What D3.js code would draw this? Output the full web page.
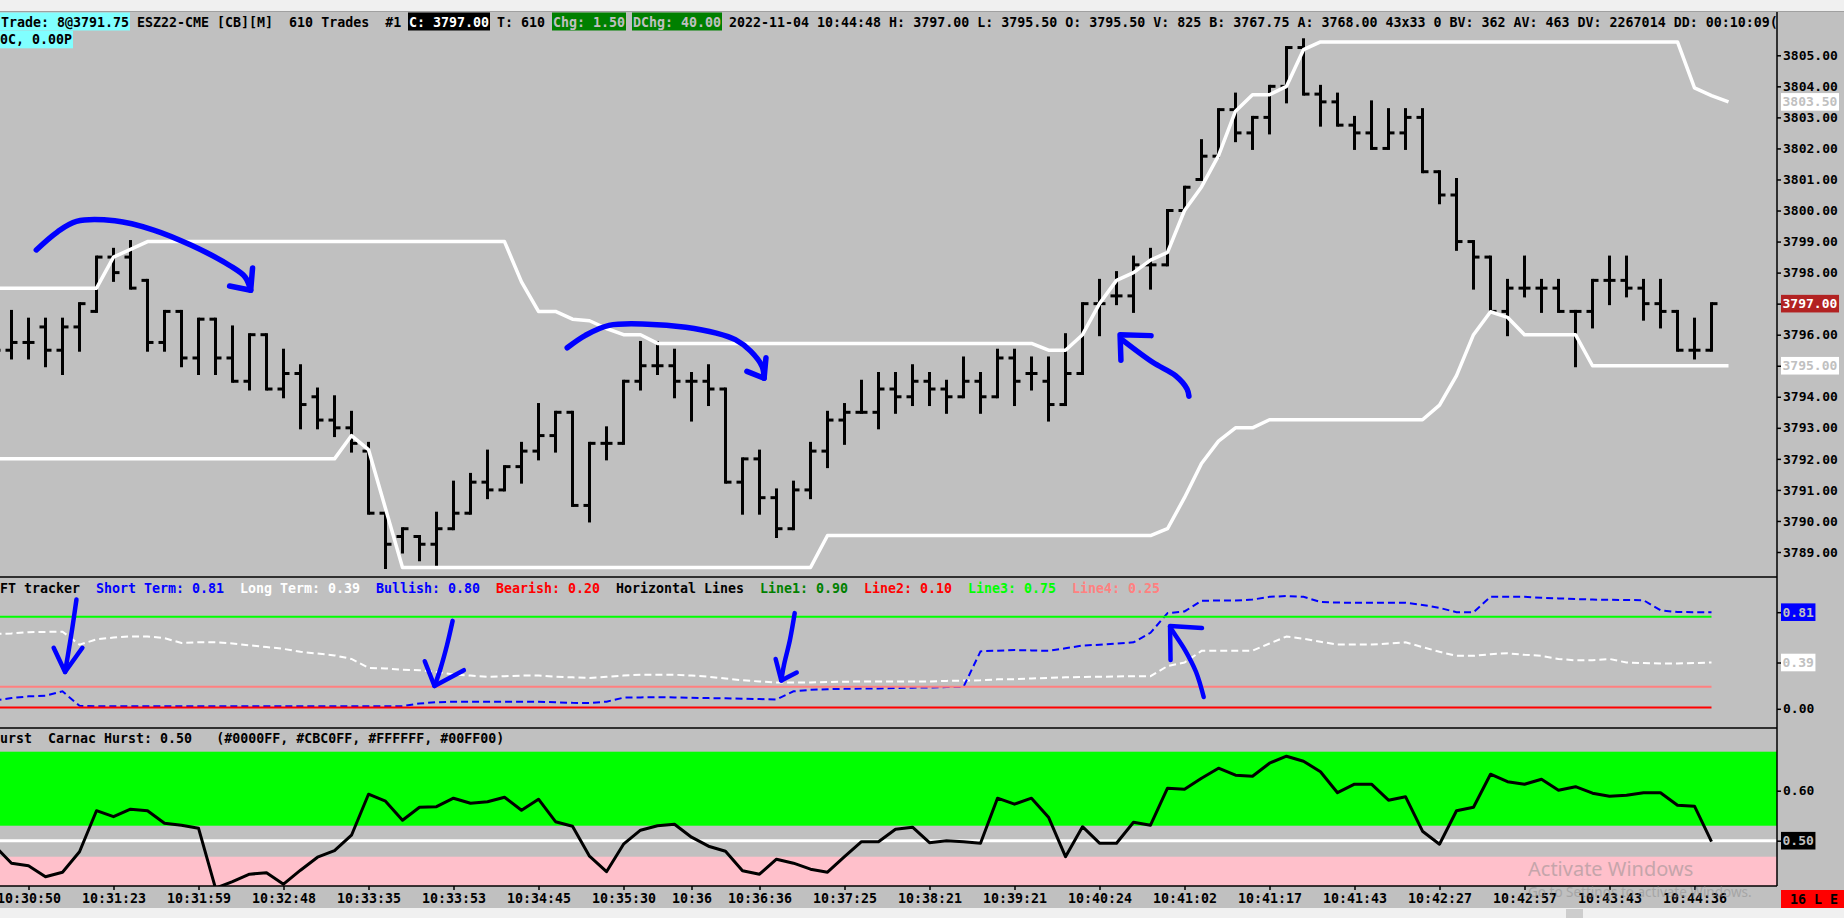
<!DOCTYPE html>
<html>
<head>
<meta charset="utf-8">
<script src="https://cdn.jsdelivr.net/npm/d3@7"></script>
<style>
  body { margin: 0; background: #c0c0c0; overflow: hidden; }
  svg { display: block; }
  text { font-family: "DejaVu Sans Mono", monospace; font-weight: bold; }
  text.wm { font-family: "Noto Sans", sans-serif; font-weight: normal; }
</style>
</head>
<body>
<script>
// ---- bar data (one entry per bar) ----
let opens = [3795.5,3795.5,3795.75,3796.25,3795.5,3796.25,3796.75,3798.5,3798.5,3797.75,
  3795.75,3796.75,3795.25,3796.5,3795.25,3794.5,3796,3794.25,3794.75,3794,
  3793.25,3793,3792.25,3790.25,3789.5,3789.5,3789.25,3789.75,3790.25,3791.25,
  3791,3791.75,3792.25,3792.75,3793.5,3790.5,3792.5,3792.5,3794.5,3795,
  3795,3794.5,3794.5,3794.25,3791.25,3792,3790.75,3789.75,3791,3792.25,
  3793.25,3793.5,3793.5,3794.25,3794,3794.5,3794.25,3794,3794.5,3794,
  3795.25,3794.75,3794.5,3793.75,3794.75,3797,3797.25,3797.25,3798.25,3798.25,
  3800,3801,3801.75,3803.25,3802.5,3803,3804,3805.25,3803.75,3803.5,
  3802.75,3802.5,3802,3802.5,3803,3801.25,3800.5,3799,3798.5,3796.75,
  3797.5,3797.5,3797.5,3796.75,3796.75,3797.75,3797.75,3797.5,3797,3796.75,
  3795.5,3795.5];
let highs = [3796.5,3796.75,3796.5,3796.5,3796.5,3797,3798.5,3798.75,3799,3797.75,
  3796.75,3796.75,3796.5,3796.5,3796.25,3796,3796,3795.5,3795,3794.25,
  3794,3793.5,3792.5,3790.25,3789.75,3789.5,3790.25,3791.25,3791.5,3792.25,
  3791.75,3792.5,3793.75,3793.5,3793.5,3792.5,3793,3794.5,3795.75,3795.75,
  3795.5,3794.75,3795,3794.25,3792,3792.25,3791,3791.25,3792.5,3793.5,
  3793.75,3794.5,3794.75,3794.75,3795,3794.75,3794.5,3795.25,3794.75,3795.5,
  3795.5,3795.25,3795.25,3796,3797,3797.75,3798,3798.5,3798.75,3800,
  3800.75,3802.25,3803.25,3803.75,3803,3804,3805.25,3805.5,3804,3803.75,
  3803,3803.5,3803.25,3803.25,3803.25,3801.25,3801,3799,3798.5,3797.75,
  3798.5,3797.75,3797.75,3796.75,3797.75,3798.5,3798.5,3797.75,3797.75,3796.75,
  3796.5,3797];
let lows = [3795,3795.25,3795.25,3795,3794.75,3795.5,3796.75,3797.75,3797.5,3795.5,
  3795.5,3795,3794.75,3794.75,3794.5,3794.25,3794.25,3794,3793,3793,
  3792.75,3792.25,3790.25,3788.5,3789,3788.75,3788.5,3789.75,3790.25,3790.75,
  3791,3791.25,3792,3792.25,3790.5,3790,3792,3792.5,3794.25,3794.75,
  3794,3793.25,3793.75,3791.25,3790.25,3790.25,3789.5,3789.75,3790.75,3791.75,
  3792.5,3793.5,3793,3793.5,3793.75,3793.75,3793.5,3794,3793.5,3794,
  3793.75,3794.25,3793.25,3793.75,3794.75,3796,3797,3796.75,3797.5,3798.25,
  3800,3801,3801.75,3802.25,3802,3802.5,3803.5,3803.75,3802.75,3802.75,
  3802,3802,3802,3802,3801.25,3800.25,3798.75,3797.5,3796.75,3796,
  3797.25,3796.75,3796.75,3795,3796.25,3797,3797.25,3796.5,3796.25,3795.5,
  3795.25,3795.5];
let closes = [3795.5,3795.75,3795.75,3795.5,3796.25,3797,3798.5,3798,3797.5,3795.75,
  3796.75,3795.25,3796.5,3795.25,3794.5,3796,3794.25,3794.75,3793.75,3793.25,
  3793,3792.5,3790.25,3789.25,3789.75,3789.25,3789.75,3790.25,3791.25,3791,
  3791.75,3792.25,3792.75,3793.5,3790.5,3792.5,3792.5,3794.5,3795,3795,
  3794.5,3794.5,3794.25,3791.25,3792,3790.75,3789.75,3791,3792.25,3793.25,
  3793.5,3793.5,3794.25,3794,3794.5,3794.25,3794,3794.5,3794,3795.25,
  3794.5,3794.75,3793.75,3794.75,3797,3797,3797.25,3798.25,3798.25,3800,
  3800.75,3801.75,3803.25,3802.5,3803,3804,3805.25,3803.75,3803.5,3802.75,
  3802.5,3802,3802.5,3803,3801.25,3800.5,3799,3798.5,3796.75,3797.5,
  3797.5,3797.5,3796.75,3796.75,3797.75,3797.75,3797.5,3797,3796.75,3795.5,
  3795.5,3797];

// ---- white channel lines on the price panel (one more point than bars) ----
let upperBand = [3797.5,3797.5,3797.5,3797.5,3797.5,3797.5,3797.5,3798.5,3798.75,3799,
  3799,3799,3799,3799,3799,3799,3799,3799,3799,3799,
  3799,3799,3799,3799,3799,3799,3799,3799,3799,3799,
  3799,3797.7,3796.75,3796.75,3796.5,3796.45,3796.2,3796,3796,3795.72,
  3795.72,3795.72,3795.72,3795.72,3795.72,3795.72,3795.72,3795.72,3795.72,3795.72,
  3795.72,3795.72,3795.72,3795.72,3795.72,3795.72,3795.72,3795.72,3795.72,3795.72,
  3795.72,3795.72,3795.5,3795.5,3796,3797,3797.75,3798,3798.4,3798.65,
  3800,3800.76,3801.77,3803.2,3803.73,3803.73,3804,3805.18,3805.43,3805.43,
  3805.43,3805.43,3805.43,3805.43,3805.43,3805.43,3805.43,3805.43,3805.43,3805.43,
  3805.43,3805.43,3805.43,3805.43,3805.43,3805.43,3805.43,3805.43,3805.43,3805.43,
  3803.95,3803.7,3803.5];
let lowerBand = [3792,3792,3792,3792,3792,3792,3792,3792,3792,3792,
  3792,3792,3792,3792,3792,3792,3792,3792,3792,3792,
  3792,3792.75,3792.3,3790.4,3788.5,3788.5,3788.5,3788.5,3788.5,3788.5,
  3788.5,3788.5,3788.5,3788.5,3788.5,3788.5,3788.5,3788.5,3788.5,3788.5,
  3788.5,3788.5,3788.5,3788.5,3788.5,3788.5,3788.5,3788.5,3788.5,3789.53,
  3789.53,3789.53,3789.53,3789.53,3789.53,3789.53,3789.53,3789.53,3789.53,3789.53,
  3789.53,3789.53,3789.53,3789.53,3789.53,3789.53,3789.53,3789.53,3789.53,3789.75,
  3790.75,3791.85,3792.57,3793,3793,3793.26,3793.26,3793.26,3793.26,3793.26,
  3793.26,3793.26,3793.26,3793.26,3793.26,3793.73,3794.68,3796,3796.74,3796.56,
  3796,3796,3796,3796,3795,3795,3795,3795,3795,3795,
  3795,3795,3795];

// ---- FFT tracker panel ----
let shortTerm = [0.07,0.09,0.105,0.11,0.147,0.025,0.022,0.022,0.022,0.022,
  0.022,0.022,0.022,0.022,0.022,0.022,0.022,0.022,0.022,0.022,
  0.022,0.022,0.022,0.022,0.022,0.045,0.055,0.06,0.06,0.06,
  0.06,0.06,0.06,0.055,0.05,0.049,0.06,0.094,0.096,0.098,
  0.096,0.093,0.09,0.088,0.085,0.082,0.079,0.147,0.16,0.165,
  0.168,0.17,0.172,0.175,0.178,0.18,0.183,0.185,0.484,0.49,
  0.495,0.492,0.488,0.51,0.533,0.54,0.55,0.56,0.64,0.806,
  0.82,0.91,0.912,0.912,0.92,0.943,0.95,0.943,0.9,0.895,
  0.893,0.893,0.893,0.893,0.875,0.85,0.814,0.814,0.943,0.943,
  0.943,0.935,0.93,0.925,0.92,0.918,0.916,0.915,0.83,0.815,
  0.814,0.814];
let longTerm = [0.63,0.635,0.645,0.648,0.65,0.54,0.585,0.6,0.61,0.61,
  0.595,0.555,0.56,0.56,0.55,0.535,0.52,0.505,0.48,0.465,
  0.45,0.42,0.345,0.34,0.33,0.325,0.31,0.29,0.28,0.27,
  0.275,0.28,0.28,0.27,0.265,0.26,0.27,0.28,0.287,0.287,
  0.287,0.28,0.27,0.255,0.24,0.23,0.222,0.222,0.222,0.225,
  0.228,0.23,0.23,0.23,0.23,0.23,0.235,0.238,0.24,0.248,
  0.25,0.255,0.26,0.265,0.268,0.27,0.272,0.275,0.275,0.36,
  0.39,0.488,0.488,0.488,0.49,0.55,0.609,0.59,0.565,0.541,
  0.541,0.541,0.55,0.56,0.52,0.48,0.446,0.446,0.46,0.468,
  0.455,0.446,0.42,0.408,0.41,0.42,0.39,0.385,0.382,0.382,
  0.385,0.39];
let fftLevels = [0.775, 0.185, 0.01];

// ---- Carnac Hurst panel ----
let hurst = [0.49,0.455,0.45,0.428,0.437,0.478,0.56,0.548,0.563,0.56,
  0.535,0.531,0.525,0.405,0.418,0.433,0.436,0.413,0.441,0.467,
  0.48,0.511,0.593,0.579,0.541,0.567,0.568,0.585,0.575,0.578,
  0.587,0.561,0.583,0.538,0.529,0.469,0.438,0.493,0.521,0.53,
  0.533,0.507,0.489,0.479,0.44,0.433,0.463,0.455,0.443,0.437,
  0.468,0.498,0.498,0.523,0.527,0.496,0.5,0.498,0.495,0.585,
  0.573,0.585,0.547,0.468,0.528,0.495,0.495,0.537,0.531,0.605,
  0.603,0.625,0.645,0.631,0.629,0.655,0.669,0.659,0.638,0.596,
  0.613,0.613,0.581,0.588,0.519,0.493,0.56,0.567,0.633,0.618,
  0.613,0.623,0.601,0.608,0.595,0.589,0.591,0.596,0.596,0.571,
  0.569,0.498];
let hurstHigh = [0.53, 0.678];
let hurstLow = [0.411, 0.468];
let hurstMid = 0.5;

// ---- axis ticks ----
let priceTicks = d3.range(3789, 3806);
let timeIdx = [2,7,12,17,22,27,32,37,41,45,50,55,60,65,70,75,80,85,90,95,100];
let timeLabels = ["10:30:50","10:31:23","10:31:59","10:32:48","10:33:35","10:33:53","10:34:45",
  "10:35:30","10:36","10:36:36","10:37:25","10:38:21","10:39:21","10:40:24","10:41:02",
  "10:41:17","10:41:43","10:42:27","10:42:57","10:43:43","10:44:36"];

// ---- hand drawn marks, in (bar, value) ----
let arc1 = [[2.46,3798.73],[3.7,3799.31],[4.82,3799.65],[7.08,3799.67],[9.32,3799.38],[11.58,3798.88],[13.83,3798.23],[14.74,3797.86],[15.07,3797.43]];
let arc1Head = [[13.83,3797.57],[15.07,3797.43],[15.18,3798.15]];
let arc2 = [[33.69,3795.58],[34.76,3795.98],[36.15,3796.3],[38.41,3796.34],[40.66,3796.24],[42.46,3796.05],[43.58,3795.84],[44.48,3795.47],[45.16,3794.97],[45.27,3794.6]];
let arc2Head = [[44.26,3794.82],[45.27,3794.6],[45.38,3795.26]];
let arrow3 = [[66.32,3795.84],[68.13,3795.11],[69.47,3794.68],[70.15,3794.25],[70.26,3794.02]];
let arrow3Head = [[68.03,3795.97],[66.21,3796.0],[66.26,3795.18]];
let fftArrows = [
  [[4.82,0.92],[4.56,0.664],[4.32,0.453],[4.15,0.31]],
  [[26.95,0.741],[26.62,0.537],[26.21,0.327],[25.88,0.192]],
  [[47.07,0.806],[46.79,0.58],[46.44,0.369],[46.28,0.238]],
  [[71.13,0.099],[70.68,0.31],[70.03,0.495],[69.26,0.664],[69.15,0.69]]
];
let fftHeads = [
  [[3.48,0.514],[4.15,0.31],[5.17,0.514]],
  [[25.31,0.401],[25.88,0.192],[27.61,0.325]],
  [[45.95,0.42],[46.28,0.238],[47.19,0.306]],
  [[71.03,0.68],[69.15,0.698],[69.18,0.411]]
];

// ---- layout ----
let W = 1844, H = 918, plotR = 1777;
let mainTop = 12, mainBot = 577, fftBot = 728, hurstBot = 886;
let cw = 8.0;

let x = d3.scaleLinear().domain([0, 101]).range([-5.5, 1711.5]);
let yP = d3.scaleLinear().domain([3789, 3805]).range([552, 55.3]);
let yF = d3.scaleLinear().domain([0, 1]).range([708.8, 590.1]);
let yH = d3.scaleLinear().domain([0.5, 0.6]).range([840.7, 790.7]);

let svg = d3.select("body").append("svg").attr("width", W).attr("height", H);
svg.append("rect").attr("width", W).attr("height", H).attr("fill", "#c0c0c0");

let defs = svg.append("defs");
function clip(id, y0, y1) {
  defs.append("clipPath").attr("id", id).append("rect")
    .attr("x", 0).attr("y", y0).attr("width", plotR).attr("height", y1 - y0);
}
clip("cMain", mainTop, mainBot);
clip("cFft", mainBot, fftBot);
clip("cHurst", fftBot, hurstBot);
clip("cHead", 0, H);

// ---------- price panel ----------
let gMain = svg.append("g").attr("clip-path", "url(#cMain)");

let bars = gMain.selectAll("g.bar").data(d3.range(opens.length)).join("g").attr("class", "bar")
  .attr("stroke", "#000").attr("stroke-width", 3);
bars.append("line")
  .attr("x1", (i) => x(i)).attr("x2", (i) => x(i))
  .attr("y1", (i) => yP(highs[i]) - 1.5).attr("y2", (i) => yP(lows[i]) + 1.5);
bars.append("line")
  .attr("x1", (i) => x(i) - 6).attr("x2", (i) => x(i))
  .attr("y1", (i) => yP(opens[i])).attr("y2", (i) => yP(opens[i]));
bars.append("line")
  .attr("x1", (i) => x(i)).attr("x2", (i) => x(i) + 6)
  .attr("y1", (i) => yP(closes[i])).attr("y2", (i) => yP(closes[i]));

let bandLine = d3.line().x((d, i) => x(i)).y((d) => yP(d));
gMain.selectAll("path.band").data([upperBand, lowerBand]).join("path")
  .attr("class", "band").attr("d", bandLine)
  .attr("fill", "none").attr("stroke", "#fff").attr("stroke-width", 3.5)
  .attr("stroke-linejoin", "round");

// hand drawn blue marks
let penP = d3.line().x((d) => x(d[0])).y((d) => yP(d[1])).curve(d3.curveCatmullRom);
let penPl = d3.line().x((d) => x(d[0])).y((d) => yP(d[1]));
gMain.selectAll("path.pen").data([arc1, arc2, arrow3]).join("path")
  .attr("class", "pen").attr("d", penP);
gMain.selectAll("path.penh").data([arc1Head, arc2Head, arrow3Head]).join("path")
  .attr("class", "penh").attr("d", penPl);
gMain.selectAll("path.pen, path.penh")
  .attr("fill", "none").attr("stroke", "#0000ff").attr("stroke-width", 5.5)
  .attr("stroke-linecap", "round").attr("stroke-linejoin", "round");

// ---------- FFT tracker panel ----------
let gFft = svg.append("g").attr("clip-path", "url(#cFft)");
let fftLine = d3.line().x((d, i) => x(i)).y((d) => yF(d));
gFft.append("path").attr("d", fftLine(longTerm))
  .attr("fill", "none").attr("stroke", "#fff").attr("stroke-width", 2).attr("stroke-dasharray", "7,4");
gFft.append("path").attr("d", fftLine(shortTerm))
  .attr("fill", "none").attr("stroke", "#0000ff").attr("stroke-width", 2).attr("stroke-dasharray", "7,4");
let levelColors = ["#00ff00", "#ff8080", "#ff0000"];
gFft.selectAll("line.lvl").data(fftLevels).join("line").attr("class", "lvl")
  .attr("x1", 0).attr("x2", x(shortTerm.length - 1))
  .attr("y1", (d) => yF(d)).attr("y2", (d) => yF(d))
  .attr("stroke", (d, i) => levelColors[i]).attr("stroke-width", 2);

let penF = d3.line().x((d) => x(d[0])).y((d) => yF(d[1])).curve(d3.curveCatmullRom);
let penFl = d3.line().x((d) => x(d[0])).y((d) => yF(d[1]));
gFft.selectAll("path.fa").data(fftArrows).join("path").attr("class", "fa").attr("d", penF);
gFft.selectAll("path.fh").data(fftHeads).join("path").attr("class", "fh").attr("d", penFl);
gFft.selectAll("path.fa, path.fh")
  .attr("fill", "none").attr("stroke", "#0000ff").attr("stroke-width", 4.5)
  .attr("stroke-linecap", "round").attr("stroke-linejoin", "round");

// ---------- Hurst panel ----------
let gHu = svg.append("g").attr("clip-path", "url(#cHurst)");
gHu.append("rect").attr("x", 0).attr("width", plotR)
  .attr("y", yH(hurstHigh[1])).attr("height", yH(hurstHigh[0]) - yH(hurstHigh[1]))
  .attr("fill", "#00ff00");
gHu.append("rect").attr("x", 0).attr("width", plotR)
  .attr("y", yH(hurstLow[1])).attr("height", yH(hurstLow[0]) - yH(hurstLow[1]) + 2)
  .attr("fill", "#ffc0cb");
gHu.append("line").attr("x1", 0).attr("x2", plotR)
  .attr("y1", yH(hurstMid)).attr("y2", yH(hurstMid))
  .attr("stroke", "#fff").attr("stroke-width", 3);
gHu.append("path").attr("d", d3.line().x((d, i) => x(i)).y((d) => yH(d))(hurst))
  .attr("fill", "none").attr("stroke", "#000").attr("stroke-width", 3)
  .attr("stroke-linejoin", "round");

// ---------- panel borders ----------
svg.selectAll("line.sep").data([mainBot, fftBot, hurstBot]).join("line").attr("class", "sep")
  .attr("x1", 0).attr("x2", plotR).attr("y1", (d) => d).attr("y2", (d) => d)
  .attr("stroke", "#000").attr("stroke-width", 1.5);
svg.append("line").attr("x1", plotR).attr("x2", plotR).attr("y1", mainTop).attr("y2", hurstBot)
  .attr("stroke", "#000").attr("stroke-width", 1.5);

// ---------- axes ----------
function styleAxis(g) {
  g.select(".domain").remove();
  g.attr("font-family", "DejaVu Sans Mono").attr("font-size", 13).attr("font-weight", "bold");
  g.selectAll(".tick line").attr("stroke", "#000").attr("stroke-width", 1.5);
  g.selectAll(".tick text").attr("fill", "#000");
}
let axP = svg.append("g").attr("transform", "translate(" + plotR + ",0)")
  .call(d3.axisRight(yP).tickValues(priceTicks).tickSize(4).tickPadding(2).tickFormat(d3.format(".2f")));
styleAxis(axP);
let axF = svg.append("g").attr("transform", "translate(" + plotR + ",0)")
  .call(d3.axisRight(yF).tickValues([shortTerm[shortTerm.length - 1], longTerm[longTerm.length - 1], 0])
    .tickSize(4).tickPadding(2).tickFormat(d3.format(".2f")));
styleAxis(axF);
let axH = svg.append("g").attr("transform", "translate(" + plotR + ",0)")
  .call(d3.axisRight(yH).tickValues([0.6, 0.5]).tickSize(4).tickPadding(2).tickFormat(d3.format(".2f")));
styleAxis(axH);
let axT = svg.append("g").attr("transform", "translate(0," + hurstBot + ")")
  .call(d3.axisBottom(x).tickValues(timeIdx).tickSize(4).tickPadding(4)
    .tickFormat((d, i) => timeLabels[i]));
styleAxis(axT);
axT.selectAll(".tick text").attr("font-size", 13.3);

// value markers on the right scale
function marker(y, label, bg, fg) {
  let g = svg.append("g").attr("transform", "translate(" + (plotR + 4) + "," + y + ")");
  g.append("rect").attr("x", 0).attr("y", -8.8).attr("width", label.length * 7.86 + 3).attr("height", 17.6).attr("fill", bg);
  g.append("text").attr("x", 1.5).attr("dy", "0.35em").attr("font-size", 13).attr("fill", fg).text(label);
}
let f2 = d3.format(".2f");
marker(yP(upperBand[upperBand.length - 1]), f2(upperBand[upperBand.length - 1]), "#ffffff", "#c0c0c0");
marker(yP(closes[closes.length - 1]), f2(closes[closes.length - 1]), "#b22222", "#ffffff");
marker(yP(lowerBand[lowerBand.length - 1]), f2(lowerBand[lowerBand.length - 1]), "#ffffff", "#c0c0c0");
marker(yF(shortTerm[shortTerm.length - 1]), f2(shortTerm[shortTerm.length - 1]), "#0000ff", "#c0c0c0");
marker(yF(longTerm[longTerm.length - 1]), f2(longTerm[longTerm.length - 1]), "#ffffff", "#c0c0c0");
marker(yH(hurstMid), f2(hurstMid), "#000000", "#c0c0c0");

// ---------- header texts ----------
let gHead = svg.append("g").attr("font-size", 13.3);
let headParts = ["Trade: 8@3791.75", " ESZ22-CME [CB][M]  610 Trades  #1 ", "C: 3797.00", " T: 610 ",
  "Chg: 1.50", " ", "DChg: 40.00",
  " 2022-11-04 10:44:48 H: 3797.00 L: 3795.50 O: 3795.50 V: 825 B: 3767.75 A: 3768.00 43x33 0 BV: 362 AV: 463 DV: 2267014 DD: 00:10:09(2"];
let headBg = ["#80ffff", null, "#000000", null, "#008000", null, "#008000", null];
let headFg = ["#000", "#000", "#fff", "#000", "#c0c0c0", "#000", "#c0c0c0", "#000"];

function textRow(g, parts, bgs, fgs, yBase, yTop, hgt, x0) {
  let pos = x0;
  parts.forEach(function (t, i) {
    let w = t.length * cw;
    if (bgs && bgs[i]) {
      g.append("rect").attr("x", pos - 1).attr("y", yTop).attr("width", w + 2).attr("height", hgt).attr("fill", bgs[i]);
    }
    g.append("text").attr("x", pos).attr("y", yBase).attr("fill", fgs[i]).attr("xml:space", "preserve")
      .style("white-space", "pre").text(t);
    pos += w;
  });
}

svg.append("rect").attr("width", W).attr("height", 11).attr("fill", "#f0f0f0");
svg.append("line").attr("x1", 0).attr("x2", W).attr("y1", 11.5).attr("y2", 11.5).attr("stroke", "#a0a0a0");
let gH1 = gHead.append("g").attr("clip-path", "url(#cHead)");
textRow(gH1, headParts, headBg, headFg, 26.5, 12.5, 18, 1);
textRow(gH1, ["0C, 0.00P"], ["#80ffff"], ["#000"], 44, 30.7, 17.6, 0);

let fftTitle = ["FT tracker", "  ", "Short Term: 0.81", "  ", "Long Term: 0.39", "  ", "Bullish: 0.80", "  ",
  "Bearish: 0.20", "  ", "Horizontal Lines", "  ", "Line1: 0.90", "  ", "Line2: 0.10", "  ", "Line3: 0.75", "  ", "Line4: 0.25"];
let fftTitleFg = ["#000", "#000", "#0000ff", "#000", "#ffffff", "#000", "#0000ff", "#000", "#ff0000", "#000",
  "#000", "#000", "#008000", "#000", "#ff0000", "#000", "#00ff00", "#000", "#ff8080"];
textRow(gHead, fftTitle, null, fftTitleFg, 592.5, 0, 0, 0);
textRow(gHead, ["urst  Carnac Hurst: 0.50   (#0000FF, #CBC0FF, #FFFFFF, #00FF00)"], null, ["#000"], 743, 0, 0, 0);

// status box bottom right
svg.append("rect").attr("x", plotR + 4).attr("y", 890).attr("width", W - plotR - 4).attr("height", 18).attr("fill", "#ff0000");
svg.append("text").attr("x", 1790).attr("y", 903.5).attr("font-size", 13.3).attr("fill", "#000")
  .attr("xml:space", "preserve").style("white-space", "pre").text("16 L E");

// window bottom strip
svg.append("rect").attr("x", 0).attr("y", 908).attr("width", W).attr("height", 10).attr("fill", "#f0f0f0");
svg.append("rect").attr("x", 1566).attr("y", 909).attr("width", 17).attr("height", 9).attr("fill", "#cdcdcd");

// watermark
let wm = svg.append("g").attr("fill", "#8c8c8c").attr("opacity", 0.5);
wm.append("text").attr("class", "wm").attr("x", 1528).attr("y", 876)
  .attr("font-size", 20).text("Activate Windows");
wm.append("text").attr("class", "wm").attr("x", 1528).attr("y", 897)
  .attr("font-size", 13.5).text("Go to Settings to activate Windows.");
</script>
</body>
</html>
